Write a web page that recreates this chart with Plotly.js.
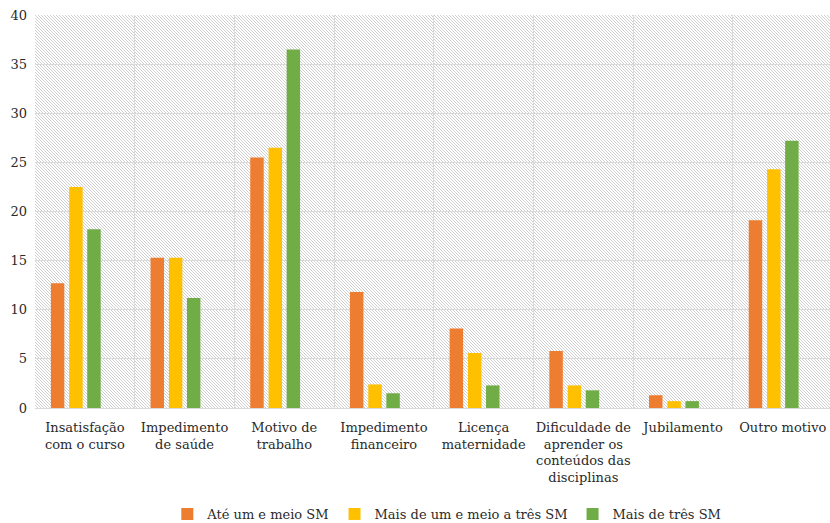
<!DOCTYPE html>
<html>
<head>
<meta charset="utf-8">
<script src="https://cdn.plot.ly/plotly-3.0.1.min.js"></script>
<style>
  html, body { margin: 0; padding: 0; background: #ffffff; overflow: hidden; }
  #wrap { position: relative; width: 830px; height: 523px; overflow: hidden; }
  #hatch {
    position: absolute; z-index: 0;
    background-image: url("data:image/svg+xml;utf8,<svg xmlns='http://www.w3.org/2000/svg' width='3' height='3' shape-rendering='crispEdges'><rect width='3' height='3' fill='%23ffffff'/><rect x='0' y='0' width='1' height='1' fill='%23d0d0d0'/><rect x='1' y='1' width='1' height='1' fill='%23d0d0d0'/><rect x='2' y='2' width='1' height='1' fill='%23d0d0d0'/></svg>");
    background-size: 3px 3px;
    image-rendering: pixelated;
  }
  #chart { position: absolute; left: 0; top: 0; width: 830px; height: 529px; z-index: 1; }
</style>
</head>
<body>
<div id="wrap">
  <div id="hatch"></div>
  <div id="chart"></div>
</div>
<script>
const categories = [
  "Insatisfação<br>com o curso",
  "Impedimento<br>de saúde",
  "Motivo de<br>trabalho",
  "Impedimento<br>financeiro",
  "Licença<br>maternidade",
  "Dificuldade de<br>aprender os<br>conteúdos das<br>disciplinas",
  "Jubilamento",
  "Outro motivo"
];
const seriesNames = ["Até um e meio SM", "Mais de um e meio a três SM", "Mais de três SM"];
const ateUmEMeio = [12.7, 15.3, 25.5, 11.8, 8.1, 5.8, 1.3, 19.1];
const umEMeioATres = [22.5, 15.3, 26.5, 2.4, 5.6, 2.3, 0.7, 24.3];
const maisDeTres = [18.2, 11.2, 36.5, 1.5, 2.3, 1.8, 0.7, 27.2];
const yTicks = [0, 5, 10, 15, 20, 25, 30, 35, 40];

const colors = ["#ED7D31", "#FFC000", "#70AD47"];
const offsets = [-0.341, -0.157, 0.024];
const values = [ateUmEMeio, umEMeioATres, maisDeTres];

const traces = values.map((v, i) => ({
  type: "bar",
  name: seriesNames[i],
  x: categories,
  y: v,
  width: 0.135,
  offset: offsets[i],
  marker: { color: colors[i], line: { width: 0 } },
  hoverinfo: "skip"
}));

const fontFamily = "DejaVu Serif";
const fontSize = 13;
const mkFont = () => ({ family: fontFamily, size: fontSize, color: "#2a2a2a" });

const layout = {
  width: 830,
  height: 529,
  margin: { l: 35, r: 0, t: 15, b: 121 },
  paper_bgcolor: "rgba(0,0,0,0)",
  plot_bgcolor: "rgba(0,0,0,0)",
  font: mkFont(),
  barmode: "group",
  showlegend: true,
  legend: {
    orientation: "h",
    x: 0.518, xanchor: "center",
    yref: "container", y: 0, yanchor: "bottom",
    font: mkFont(),
    itemwidth: 30,
    traceorder: "normal"
  },
  xaxis: {
    type: "category",
    range: [-0.5, 7.474],
    tickson: "boundaries",
    showgrid: true,
    gridcolor: "#d9d9d9",
    gridwidth: 1,
    showline: true,
    linecolor: "#d9d9d9",
    linewidth: 1,
    ticks: "",
    tickangle: 0,
    ticklabelstandoff: 7,
    tickfont: mkFont(),
    fixedrange: true
  },
  yaxis: {
    range: [0, 40],
    tickvals: yTicks,
    ticktext: yTicks.map(String),
    showgrid: true,
    gridcolor: "#d9d9d9",
    gridwidth: 1,
    zeroline: false,
    showline: false,
    ticks: "",
    ticklabelstandoff: 7,
    tickfont: mkFont(),
    fixedrange: true
  }
};

Plotly.newPlot("chart", traces, layout, { displayModeBar: false, staticPlot: true }).then(gd => {
  const s = gd._fullLayout._size;
  const h = document.getElementById("hatch");
  h.style.left = s.l + "px";
  h.style.top = s.t + "px";
  h.style.width = s.w + "px";
  h.style.height = s.h + "px";
});
</script>
</body>
</html>
